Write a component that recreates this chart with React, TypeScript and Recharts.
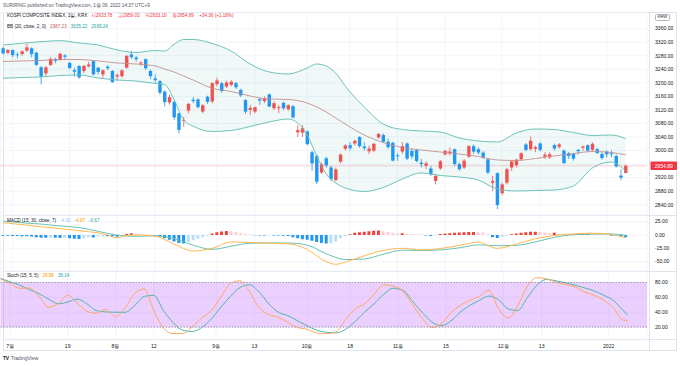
import React from 'react';
import {
  ComposedChart, Bar, Line, Area, XAxis, YAxis, CartesianGrid,
  ReferenceArea, ReferenceLine, Cell,
} from 'recharts';

// ---------- DATA (daily bars, 2021-06-29 .. 2022-01-07) ----------
const opens = [
  3302, 3289, 3297, 3284, 3285, 3295, 3302, 3289, 3246, 3228,
  3253, 3270, 3268, 3281, 3259, 3238, 3250, 3235, 3249, 3264,
  3245, 3225, 3248, 3235, 3219, 3220, 3245, 3284, 3275, 3257,
  3270, 3235, 3213, 3205, 3174, 3142, 3144, 3110, 3088, 3118,
  3150, 3151, 3115, 3159, 3145, 3196, 3199, 3189, 3194, 3199,
  3179, 3149, 3120, 3115, 3152, 3146, 3166, 3125, 3125, 3141,
  3122, 3131, 3054, 3053, 3056, 2995, 2984, 2935, 2977, 2950,
  2913, 2967, 3005, 3016, 3021, 3040, 3012, 2998, 3000, 3039,
  3046, 3026, 3023, 2986, 2997, 3021, 2999, 3001, 2964, 2955,
  2947, 2910, 2947, 2989, 2992, 3004, 2960, 2950, 2982, 3013,
  3004, 2994, 2974, 2905, 2933, 2874, 2905, 2950, 2957, 2974,
  3018, 3004, 3005, 3021, 2982, 2980, 3016, 3011, 3000, 2992,
  2990, 3002, 3008, 3016, 3002, 3004, 2990, 2997, 2992, 2984,
  2926, 2933.78,
];
const highs = [
  3306, 3300, 3299, 3290, 3296, 3316, 3305, 3292, 3250, 3250,
  3275, 3274, 3289, 3285, 3262, 3245, 3252, 3253, 3262, 3266,
  3247, 3240, 3252, 3238, 3228, 3240, 3282, 3295, 3280, 3264,
  3272, 3240, 3225, 3208, 3178, 3165, 3147, 3112, 3100, 3140,
  3158, 3155, 3137, 3162, 3202, 3215, 3203, 3206, 3208, 3203,
  3183, 3152, 3135, 3130, 3155, 3160, 3168, 3145, 3135, 3145,
  3137, 3134, 3075, 3075, 3060, 3000, 2990, 2965, 2982, 2955,
  2950, 2992, 3018, 3025, 3032, 3043, 3025, 3015, 3022, 3052,
  3050, 3035, 3026, 2992, 3025, 3024, 3005, 3005, 2975, 2968,
  2955, 2930, 2972, 3002, 3010, 3006, 2965, 2975, 3016, 3018,
  3010, 2998, 2978, 2925, 2936, 2905, 2948, 2972, 2976, 2995,
  3022, 3041, 3015, 3025, 2995, 2995, 3020, 3022, 3003, 2996,
  2993, 3005, 3015, 3018, 3024, 3008, 2995, 3000, 3000, 2988,
  2945, 2959.03,
];
const lows = [
  3283, 3284, 3276, 3273, 3280, 3292, 3275, 3250, 3195, 3220,
  3250, 3258, 3265, 3270, 3240, 3218, 3212, 3228, 3245, 3222,
  3225, 3215, 3238, 3200, 3205, 3215, 3242, 3270, 3262, 3250,
  3238, 3212, 3200, 3165, 3130, 3135, 3090, 3050, 3070, 3110,
  3140, 3125, 3110, 3138, 3140, 3190, 3170, 3185, 3190, 3182,
  3158, 3108, 3105, 3110, 3135, 3140, 3128, 3120, 3110, 3120,
  3118, 3095, 3040, 3040, 3015, 2940, 2901, 2930, 2950, 2910,
  2908, 2962, 3000, 3000, 3015, 3008, 3000, 2990, 2995, 3035,
  3022, 3005, 2968, 2970, 2990, 2972, 2975, 2965, 2950, 2945,
  2925, 2900, 2943, 2985, 2985, 2955, 2940, 2945, 2978, 2990,
  2988, 2975, 2930, 2880, 2827, 2868, 2900, 2940, 2950, 2970,
  2998, 3000, 2995, 2998, 2975, 2975, 3000, 3005, 2960, 2975,
  2970, 2988, 3000, 2995, 2998, 2990, 2973, 2980, 2980, 2950,
  2912, 2933.10,
];
const closes = [
  3287, 3297, 3282, 3282, 3293, 3305, 3285, 3253, 3218, 3246,
  3271, 3265, 3286, 3277, 3244, 3233, 3216, 3250, 3254, 3225,
  3232, 3237, 3243, 3202, 3223, 3237, 3280, 3276, 3270, 3260,
  3243, 3220, 3208, 3171, 3143, 3158, 3098, 3061, 3090, 3138,
  3146, 3128, 3134, 3144, 3199, 3207, 3176, 3201, 3203, 3187,
  3163, 3115, 3126, 3128, 3148, 3154, 3130, 3140, 3128, 3125,
  3134, 3098, 3060, 3066, 3019, 2962, 2908, 2959, 2956, 2916,
  2944, 2988, 3015, 3007, 3029, 3013, 3007, 3006, 3020, 3049,
  3026, 3010, 2970, 2983, 3013, 2976, 2983, 2969, 2960, 2962,
  2930, 2925, 2968, 2999, 2997, 2960, 2945, 2970, 3013, 2997,
  2994, 2980, 2935, 2910, 2839, 2900, 2945, 2968, 2973, 2992,
  3002, 3029, 3010, 3002, 2988, 2989, 3006, 3018, 2963, 2984,
  2976, 2998, 3012, 3000, 3020, 2993, 2978, 2989, 2989, 2953,
  2920, 2954.89,
];

// Bollinger Bands (20, 2) read at these bar positions
const bbIdx = [0, 4, 8, 12, 16, 20, 24, 28, 32, 34, 36, 38, 40, 44, 48, 52, 56, 60, 64, 66, 68, 70, 72, 76, 80, 84, 88, 92, 96, 100, 104, 108, 112, 116, 120, 124, 128, 131];
const bbUpper = [3311.8, 3316.9, 3321.6, 3324.6, 3317.8, 3311.8, 3297.1, 3289.7, 3295.6, 3294, 3314, 3328.1, 3328.1, 3316.3, 3294.1, 3255.7, 3232.1, 3226.2, 3243.9, 3255.7, 3249.8, 3229.1, 3190.7, 3128.7, 3078.4, 3062.2, 3057.8, 3054.8, 3037.1, 3028.2, 3025.3, 3051.9, 3063.7, 3062.2, 3053.3, 3044.5, 3045.9, 3035.22];
const bbMiddle = [3263.1, 3264.6, 3266.1, 3269.0, 3269.0, 3264.6, 3258.7, 3255.7, 3249.8, 3240.9, 3232.1, 3220.3, 3208.4, 3184, 3174.5, 3161.2, 3152.3, 3150.8, 3140.5, 3128.7, 3113.9, 3096.2, 3078.4, 3045.9, 3023.8, 3009.0, 3001.6, 2995.7, 2989.8, 2982.4, 2972.1, 2970.6, 2976.5, 2983.9, 2991.3, 2997.2, 2994.2, 2987.23];
const bbLower = [3213.5, 3215.8, 3217.3, 3221.7, 3223.2, 3214.4, 3208.4, 3205.5, 3198.1, 3195, 3150, 3090, 3072, 3056.3, 3059.2, 3071.1, 3084.4, 3093.2, 3045.9, 2983.9, 2930.7, 2904.1, 2889.4, 2879.0, 2890.8, 2915.9, 2933.7, 2926.3, 2921.9, 2913.0, 2886.4, 2880.5, 2882.0, 2883.4, 2895.3, 2948.4, 2966.2, 2939.24];

// MACD (15, 30, 7)
const macdIdx = [0, 4, 8, 12, 16, 20, 22, 24, 26, 28, 32, 36, 40, 44, 48, 52, 56, 60, 64, 68, 70, 72, 76, 80, 84, 88, 92, 96, 100, 104, 108, 112, 116, 120, 124, 128, 131];
const macdLine = [23, 19.5, 15.5, 12, 8, 4, 0, -5, -1, 0, -2, -17, -30, -25, -13, -14, -15.5, -16.5, -27, -50, -55, -51, -39, -29, -25, -28, -25.5, -19.5, -13.5, -25, -17, -7, -1, 2, 3.5, 0.8, -4.97];
const macdSignal = [26, 23, 20.5, 17, 14, 7, 3, 0, -2, -2.5, -1.5, -7, -19, -27, -21, -15.5, -15, -15, -19, -35, -42, -46, -45, -36, -28.5, -29, -28, -24, -18.5, -20, -19.5, -13, -4.5, 0.5, 1.5, 2, -0.67];
const macdHist = [
  -1.5, -1.5, -2, -2, -2.5, -2.5, -3, -4, -5, -5,
  -4.5, -5, -5.5, -5, -6, -7, -7.5, -6, -4, -4.5,
  -3, -2.5, -2.5, -3, -3.5, -2.5, 2, 3.5, 3, 1.5,
  0.8, 0.3, -1.5, -3, -6, -9, -12, -15, -16, -13,
  -10, -7, -4, -1.5, 3, 5, 6.5, 7.5, 7, 5,
  3.5, 2, 1, -0.5, -1, -1, -0.5, -0.8, -1, -1.5,
  -2, -4, -6, -8, -9, -11, -13, -15, -16, -15.5,
  -12, -6, -2.5, 1.5, 4, 5, 6, 7, 8, 8.5,
  7, 5.5, 4, 3, 3.5, 2.5, 2, 1.5, 1, -1,
  -2, -1, 2, 3, 3.5, 4, 4.5, 5, 5.5, 5.5,
  5, 4.5, 2, -4, -5.5, -3.5, -1.5, 1.5, 3, 4,
  5, 6, 6, 5.5, 4.5, 3.5, 4, 2.5, 1.5, 1,
  1, 1.5, 2, 2, 1.5, 1, 0.5, 0.3, -1.2, -2,
  -2.8, -4.3,
];

// Stochastic (15, 5, 5)
const stochIdx = [0, 2, 4, 6, 8, 10, 12, 14, 16, 18, 20, 22, 24, 26, 28, 30, 32, 34, 36, 38, 40, 42, 44, 46, 48, 50, 52, 54, 56, 58, 60, 62, 64, 66, 68, 70, 72, 74, 76, 78, 80, 82, 84, 86, 88, 90, 92, 94, 96, 98, 100, 102, 104, 106, 108, 110, 112, 114, 116, 118, 120, 122, 124, 126, 128, 130, 131];
const stochK = [84.5, 78.6, 72.2, 72.7, 61.3, 46.8, 51.4, 62.7, 52.3, 41.4, 38.6, 44.1, 34.1, 45.9, 65, 71.3, 42.3, 18.6, 11.3, 11.3, 20.4, 32.3, 42.3, 60.4, 78.6, 82.2, 67.2, 45.9, 36.8, 33.2, 26.4, 19.5, 17.2, 12.2, 11.3, 13.2, 29.5, 44.1, 51.4, 64.1, 76.8, 75, 68.6, 50.5, 32.3, 19.5, 24.1, 39, 49.1, 55.9, 61.3, 69.5, 44.5, 32.3, 48.6, 74.9, 86.3, 85, 80.4, 77.2, 74.1, 67.2, 62.7, 55.9, 45.9, 29.5, 28.98];
const stochD = [85.4, 80.9, 76.4, 70.4, 65, 57.7, 51.4, 53.6, 57.7, 51.4, 42.3, 40.4, 40, 40, 49, 61.3, 62.7, 42.3, 26.4, 15.9, 14.1, 19.5, 30.9, 46.8, 61.3, 73.2, 76.8, 67.2, 51.4, 40, 35.4, 28.6, 21.8, 15.9, 13.2, 12.2, 16.8, 27.3, 40, 51.4, 64.1, 72.2, 69.5, 55, 40, 27.3, 21.8, 28, 40, 49.1, 55.9, 61.8, 56.8, 44.5, 42.3, 59.5, 76.3, 84.1, 82.2, 79.5, 76.3, 72.7, 68.6, 62.7, 55.9, 42.3, 36.14];

// Axis ticks
const timeTickIdx = [2, 14, 24, 32, 45, 53, 64, 73, 83, 93, 105, 113, 127];
const timeTickLabels = ['7월', '19', '8월', '12', '9월', '13', '10월', '18', '11월', '15', '12월', '13', '2022'];
const priceTicks = [2840, 2880, 2920, 2960, 3000, 3040, 3080, 3120, 3160, 3200, 3240, 3280, 3320, 3360];
const macdTicks = [-50, -25, 0, 25];
const stochTicks = [20, 40, 60, 80];
const lastPrice = 2954.89;

// ---------- layout / style ----------
const SLOTS = 136;
const ML = 0.62;
const AXW = 33;
const FONT = '"Liberation Sans", Arial, sans-serif';
const UP = '#EF5350';
const DOWN = '#2196F3';
const GRID = '#F0F3FA';
const BORDER = '#E0E3EB';
const TXT = '#131722';

type Row = Record<string, any>;
const rows: Row[] = Array.from({ length: SLOTS }, (_, i) => {
  const has = i < opens.length;
  return {
    i,
    o: has ? opens[i] : null,
    h: has ? highs[i] : null,
    l: has ? lows[i] : null,
    c: has ? closes[i] : null,
    range: has ? [lows[i], highs[i]] : null,
    hist: has ? macdHist[i] : null,
    bbU: null, bbM: null, bbL: null, bbR: null,
    macd: null, sig: null, k: null, d: null,
  };
});
bbIdx.forEach((k, j) => {
  rows[k].bbU = bbUpper[j];
  rows[k].bbM = bbMiddle[j];
  rows[k].bbL = bbLower[j];
  rows[k].bbR = [bbLower[j], bbUpper[j]];
});
macdIdx.forEach((k, j) => { rows[k].macd = macdLine[j]; rows[k].sig = macdSignal[j]; });
stochIdx.forEach((k, j) => { rows[k].k = stochK[j]; rows[k].d = stochD[j]; });

const histColor = (i: number) => {
  const v = macdHist[i];
  const p = i > 0 ? macdHist[i - 1] : v;
  if (v >= 0) return v >= p ? '#F0443A' : '#FFCDD2';
  return v <= p ? '#2196F3' : '#BBDEFB';
};

function Candle(props: any) {
  const { x, y, width, height, payload } = props;
  if (!payload || payload.o == null || x == null) return null;
  const { o, h, l, c } = payload;
  const top = Math.min(y, y + height);
  const bot = Math.max(y, y + height);
  const span = h - l || 1;
  const py = (p: number) => top + ((h - p) / span) * (bot - top);
  const color = c >= o ? UP : DOWN;
  const cx = x + width / 2;
  const bw = width * 0.68;
  const yo = py(o);
  const yc = py(c);
  const bt = Math.min(yo, yc);
  const bh = Math.max(Math.abs(yo - yc), 0.8);
  return (
    <g>
      <line x1={cx} x2={cx} y1={top} y2={bot} stroke={color} strokeWidth={0.8} />
      <rect x={cx - bw / 2} y={bt} width={bw} height={bh} fill={color} />
    </g>
  );
}

const yTick = { fontSize: 5.1, fill: TXT };
const fmt2 = (v: number) => v.toFixed(2);
// the last-price tag covers the neighbouring scale label, as in the reference
const fmtPrice = (v: number) => (Math.abs(v - lastPrice) < 12 ? '' : v.toFixed(2));
const abs = (style: React.CSSProperties): React.CSSProperties => ({ position: 'absolute', whiteSpace: 'nowrap', lineHeight: 1, ...style });

function PriceTag(p: any) {
  const vb = p.viewBox || {};
  const x0 = (vb.x || 0) + (vb.width || 0) + 3.5;
  const yy = vb.y || 0;
  return (
    <g>
      <rect x={x0} y={yy - 4.2} width={26.5} height={8.4} fill="#F23645" rx={0.8} />
      <text x={x0 + 13.2} y={yy} dy="0.36em" textAnchor="middle" fontSize={5.1} fill="#fff">{lastPrice.toFixed(2)}</text>
    </g>
  );
}

export default function App() {
  return (
    <div style={{ position: 'absolute', left: 0, top: 0, width: 680, height: 366, background: '#fff', fontFamily: FONT, overflow: 'hidden' }}>
      {/* frame */}
      <div style={{ position: 'absolute', left: 3, top: 12, width: 674, height: 339, border: `1px solid ${BORDER}`, boxSizing: 'border-box' }} />
      <div style={{ position: 'absolute', left: 649, top: 12, width: 1, height: 339, background: BORDER }} />
      <div style={{ position: 'absolute', left: 3, top: 215, width: 674, height: 1, background: BORDER }} />
      <div style={{ position: 'absolute', left: 3, top: 271, width: 674, height: 1, background: BORDER }} />
      <div style={{ position: 'absolute', left: 3, top: 339, width: 674, height: 1, background: BORDER }} />

      {/* main pane */}
      <div style={{ position: 'absolute', left: 0, top: 12 }}>
        <ComposedChart width={680} height={203} data={rows} margin={{ top: 0, right: 0, bottom: 0, left: ML }} barCategoryGap={0} barGap={0}>
          <CartesianGrid stroke={GRID} strokeWidth={0.8} />
          <XAxis dataKey="i" type="category" hide ticks={timeTickIdx} interval={0} />
          <YAxis orientation="right" width={AXW} domain={[2809.6, 3409.3]} allowDataOverflow ticks={priceTicks} interval={0}
            tick={yTick} tickFormatter={fmtPrice} axisLine={false} tickLine={false} />
          <Area dataKey="bbR" type="monotone" connectNulls stroke="none" fill="#26A69A" fillOpacity={0.07} isAnimationActive={false} />
          <Line dataKey="bbU" type="monotone" connectNulls dot={false} stroke="#6CC3B7" strokeWidth={1} isAnimationActive={false} />
          <Line dataKey="bbL" type="monotone" connectNulls dot={false} stroke="#6CC3B7" strokeWidth={1} isAnimationActive={false} />
          <Line dataKey="bbM" type="monotone" connectNulls dot={false} stroke="#C4908C" strokeWidth={0.9} isAnimationActive={false} />
          <ReferenceLine y={lastPrice} stroke="#F23645" strokeOpacity={0.3} strokeWidth={0.8} label={PriceTag} />
          <Bar dataKey="range" shape={Candle} isAnimationActive={false} />
        </ComposedChart>
      </div>

      {/* MACD pane */}
      <div style={{ position: 'absolute', left: 0, top: 215 }}>
        <ComposedChart width={680} height={56} data={rows} margin={{ top: 0, right: 0, bottom: 0, left: ML }} barCategoryGap="18%">
          <CartesianGrid stroke={GRID} strokeWidth={0.8} />
          <XAxis dataKey="i" type="category" hide ticks={timeTickIdx} interval={0} />
          <YAxis orientation="right" width={AXW} domain={[-67.5, 37.5]} allowDataOverflow ticks={macdTicks} interval={0}
            tick={yTick} tickFormatter={fmt2} axisLine={false} tickLine={false} />
          <Bar dataKey="hist" isAnimationActive={false}>
            {rows.map((r, i) => <Cell key={i} fill={i < macdHist.length ? histColor(i) : 'none'} />)}
          </Bar>
          <Line dataKey="sig" type="monotone" connectNulls dot={false} stroke="#66C2B4" strokeWidth={1} isAnimationActive={false} />
          <Line dataKey="macd" type="monotone" connectNulls dot={false} stroke="#FFB74D" strokeWidth={1} isAnimationActive={false} />
        </ComposedChart>
      </div>

      {/* Stoch pane */}
      <div style={{ position: 'absolute', left: 0, top: 271 }}>
        <ComposedChart width={680} height={81} data={rows} margin={{ top: 0, right: 0, bottom: 0, left: ML }}>
          <CartesianGrid stroke={GRID} strokeWidth={0.8} />
          <XAxis dataKey="i" type="category" ticks={timeTickIdx} interval={0} height={12}
            tickFormatter={(v: number) => timeTickLabels[timeTickIdx.indexOf(v)]}
            tick={{ fontSize: 5.1, fill: TXT }} axisLine={false} tickLine={false} tickSize={0} tickMargin={4} />
          <YAxis orientation="right" width={AXW} domain={[2.7, 95.4]} allowDataOverflow ticks={stochTicks} interval={0}
            tick={yTick} tickFormatter={fmt2} axisLine={false} tickLine={false} />
          <Line dataKey="d" type="monotone" connectNulls dot={false} stroke="#4DB6AC" strokeWidth={1} isAnimationActive={false} />
          <Line dataKey="k" type="monotone" connectNulls dot={false} stroke="#FFA860" strokeWidth={1} isAnimationActive={false} />
          <ReferenceArea y1={20} y2={80} fill="#B040FB" fillOpacity={0.25} stroke="none" />
          <ReferenceLine y={80} stroke="#9A8AA8" strokeDasharray="1.5 1.5" strokeWidth={0.9} />
          <ReferenceLine y={20} stroke="#9A8AA8" strokeDasharray="1.5 1.5" strokeWidth={0.9} />
        </ComposedChart>
      </div>

      {/* texts */}
      <div style={abs({ left: 3, top: 3.6, fontSize: 4.7, color: '#50535E' })}>
        SURIRING published on TradingView.com, 1월 09, 2022 14:37 UTC+9
      </div>
      <div style={abs({ left: 7, top: 13.7, fontSize: 4.6, color: TXT, display: 'flex', gap: 5.5 })}>
        <span style={{ marginRight: -2 }}>KOSPI COMPOSITE INDEX, 1일, KRX</span>
        <span style={{ color: '#F23645' }}>시2933.78</span>
        <span style={{ color: '#F23645' }}>고2959.03</span>
        <span style={{ color: '#F23645' }}>저2933.10</span>
        <span style={{ color: '#F23645' }}>종2954.89</span>
        <span style={{ color: '#F23645' }}>+34.36 (+1.18%)</span>
      </div>
      <div style={abs({ left: 7, top: 24.7, fontSize: 4.6, color: TXT, display: 'flex', gap: 4 })}>
        <span>BB (20, close, 2, 0)</span>
        <span style={{ color: '#C0605A' }}>2987.23</span>
        <span style={{ color: '#26A69A' }}>3035.22</span>
        <span style={{ color: '#26A69A' }}>2939.24</span>
      </div>
      <div style={abs({ left: 7, top: 218.7, fontSize: 4.6, color: TXT, display: 'flex', gap: 4 })}>
        <span>MACD (15, 30, close, 7)</span>
        <span style={{ color: '#90CAF9' }}>-4.30</span>
        <span style={{ color: '#FF9800' }}>-4.97</span>
        <span style={{ color: '#26A69A' }}>-0.67</span>
      </div>
      <div style={abs({ left: 7, top: 273.9, fontSize: 4.6, color: TXT, display: 'flex', gap: 4 })}>
        <span>Stoch (15, 5, 5)</span>
        <span style={{ color: '#FF9800' }}>28.98</span>
        <span style={{ color: '#26A69A' }}>36.14</span>
      </div>
      <div style={abs({ left: 655, top: 13.5, fontSize: 4.2, color: TXT, border: '0.6px solid #B2B5BE', borderRadius: 1.5, padding: '0.8px 1.5px' })}>
        KRW
      </div>
      <div style={abs({ left: 3, top: 355.5, fontSize: 5, color: '#50535E', display: 'flex', gap: 2, alignItems: 'center' })}>
        <span style={{ fontWeight: 700, color: TXT, letterSpacing: -0.3 }}>TV</span>
        <span>TradingView</span>
      </div>
    </div>
  );
}
